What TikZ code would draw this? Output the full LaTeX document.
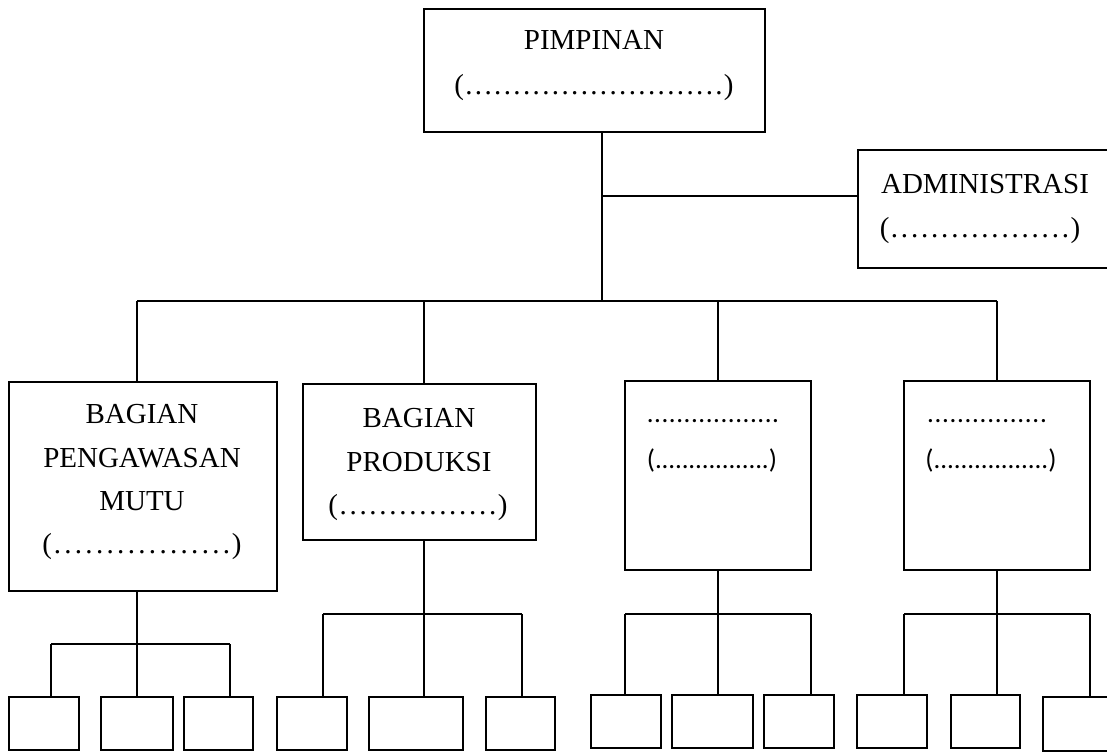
\documentclass[tikz,border=0pt]{standalone}
\usepackage{fontspec}
\setmainfont{Liberation Serif}
\newfontfamily\carl{Carlito}
\newcommand\dotrun[2]{\mbox{}\xleaders\hbox to #1{\hss.\hss}\hskip #2\relax\mbox{}}
\tikzset{
  box/.style={draw, line width=2.3pt, rectangle, inner sep=0pt, outer sep=0pt},
  conn/.style={line width=2.3pt},
  txt/.style={anchor=base, inner sep=0pt, font=\fontsize{29}{34}\selectfont},
  ctxt/.style={anchor=base, inner sep=0pt, font=\carl\fontsize{27}{32}\selectfont},
}
\begin{document}
\begin{tikzpicture}[x=1pt, y=-1pt]
\useasboundingbox (0,0) rectangle (1107,752);
% main boxes
\node[box, minimum width=341pt, minimum height=123pt] (pim) at (594.5,70.5) {};
\node[box, minimum width=262pt, minimum height=118pt] (adm) at (989,209) {};
\node[box, minimum width=268pt, minimum height=209pt] (b1) at (143,486.5) {};
\node[box, minimum width=233pt, minimum height=156pt] (b2) at (419.5,462) {};
\node[box, minimum width=186pt, minimum height=189pt] (b3) at (718,475.5) {};
\node[box, minimum width=186pt, minimum height=189pt] (b4) at (997,475.5) {};
% small boxes
\node[box, minimum width=70pt, minimum height=53pt] (s1) at (44,723.5) {};
\node[box, minimum width=72pt, minimum height=53pt] (s2) at (137,723.5) {};
\node[box, minimum width=69pt, minimum height=53pt] (s3) at (218.5,723.5) {};
\node[box, minimum width=70pt, minimum height=53pt] (s4) at (312,723.5) {};
\node[box, minimum width=94pt, minimum height=53pt] (s5) at (416,723.5) {};
\node[box, minimum width=69pt, minimum height=53pt] (s6) at (520.5,723.5) {};
\node[box, minimum width=70pt, minimum height=53pt] (s7) at (626,721.5) {};
\node[box, minimum width=81pt, minimum height=53pt] (s8) at (712.5,721.5) {};
\node[box, minimum width=70pt, minimum height=53pt] (s9) at (799,721.5) {};
\node[box, minimum width=70pt, minimum height=53pt] (s10) at (892,721.5) {};
\node[box, minimum width=69pt, minimum height=53pt] (s11) at (985.5,721.5) {};
\node[box, minimum width=72pt, minimum height=54pt] (s12) at (1079,724) {};
% texts
\node[txt] (tpim1) at (594,50) {PIMPINAN};
\node[txt] (tpim2) at (594,94) {(\dotrun{9.3pt}{260pt})};
\node[txt] (tadm1) at (985,193) {ADMINISTRASI};
\node[txt] (tadm2) at (980,237) {(\dotrun{10pt}{181pt})};
\node[txt] (tb1a) at (142,423) {BAGIAN};
\node[txt] (tb1b) at (142,467) {PENGAWASAN};
\node[txt] (tb1c) at (142,510) {MUTU};
\node[txt] (tb1d) at (142,553) {(\dotrun{10.3pt}{180pt})};
\node[txt] (tb2a) at (419,427) {BAGIAN};
\node[txt] (tb2b) at (419,471) {PRODUKSI};
\node[txt] (tb2c) at (418,514) {(\dotrun{9.5pt}{160pt})};
\node[ctxt] (tb3a) at (713,422) {\dotrun{7.3pt}{133pt}};
\node[ctxt] (tb3b) at (712,468) {(\dotrun{6.5pt}{114pt})};
\node[ctxt] (tb4a) at (987,422) {\dotrun{7.3pt}{121pt}};
\node[ctxt] (tb4b) at (991,468) {(\dotrun{6.5pt}{115pt})};
% top connectors
\coordinate (bus) at (602,301);
\coordinate (ja) at (602,196);
\draw[conn] (pim.south -| bus) -- (bus);
\draw[conn] (ja) -- (ja -| adm.west);
\coordinate (d1) at (137,301);
\coordinate (d2) at (424,301);
\coordinate (d3) at (718,301);
\coordinate (d4) at (997,301);
\draw[conn] (d1) -- (d4);
\draw[conn] (d1) -- (d1 |- b1.north);
\draw[conn] (d2) -- (d2 |- b2.north);
\draw[conn] (d3) -- (d3 |- b3.north);
\draw[conn] (d4) -- (d4 |- b4.north);
% sub-tree 1
\coordinate (e1) at (137,644);
\coordinate (e1l) at (51,644);
\coordinate (e1r) at (230,644);
\draw[conn] (e1 |- b1.south) -- (e1);
\draw[conn] (e1l) -- (e1r);
\draw[conn] (e1l) -- (e1l |- s1.north);
\draw[conn] (e1) -- (e1 |- s2.north);
\draw[conn] (e1r) -- (e1r |- s3.north);
% sub-tree 2
\coordinate (e2) at (424,614);
\coordinate (e2l) at (323,614);
\coordinate (e2r) at (522,614);
\draw[conn] (e2 |- b2.south) -- (e2);
\draw[conn] (e2l) -- (e2r);
\draw[conn] (e2l) -- (e2l |- s4.north);
\draw[conn] (e2) -- (e2 |- s5.north);
\draw[conn] (e2r) -- (e2r |- s6.north);
% sub-tree 3
\coordinate (e3) at (718,614);
\coordinate (e3l) at (625,614);
\coordinate (e3r) at (811,614);
\draw[conn] (e3 |- b3.south) -- (e3);
\draw[conn] (e3l) -- (e3r);
\draw[conn] (e3l) -- (e3l |- s7.north);
\draw[conn] (e3) -- (e3 |- s8.north);
\draw[conn] (e3r) -- (e3r |- s9.north);
% sub-tree 4
\coordinate (e4) at (997,614);
\coordinate (e4l) at (904,614);
\coordinate (e4r) at (1090,614);
\draw[conn] (e4 |- b4.south) -- (e4);
\draw[conn] (e4l) -- (e4r);
\draw[conn] (e4l) -- (e4l |- s10.north);
\draw[conn] (e4) -- (e4 |- s11.north);
\draw[conn] (e4r) -- (e4r |- s12.north);
\end{tikzpicture}
\end{document}
